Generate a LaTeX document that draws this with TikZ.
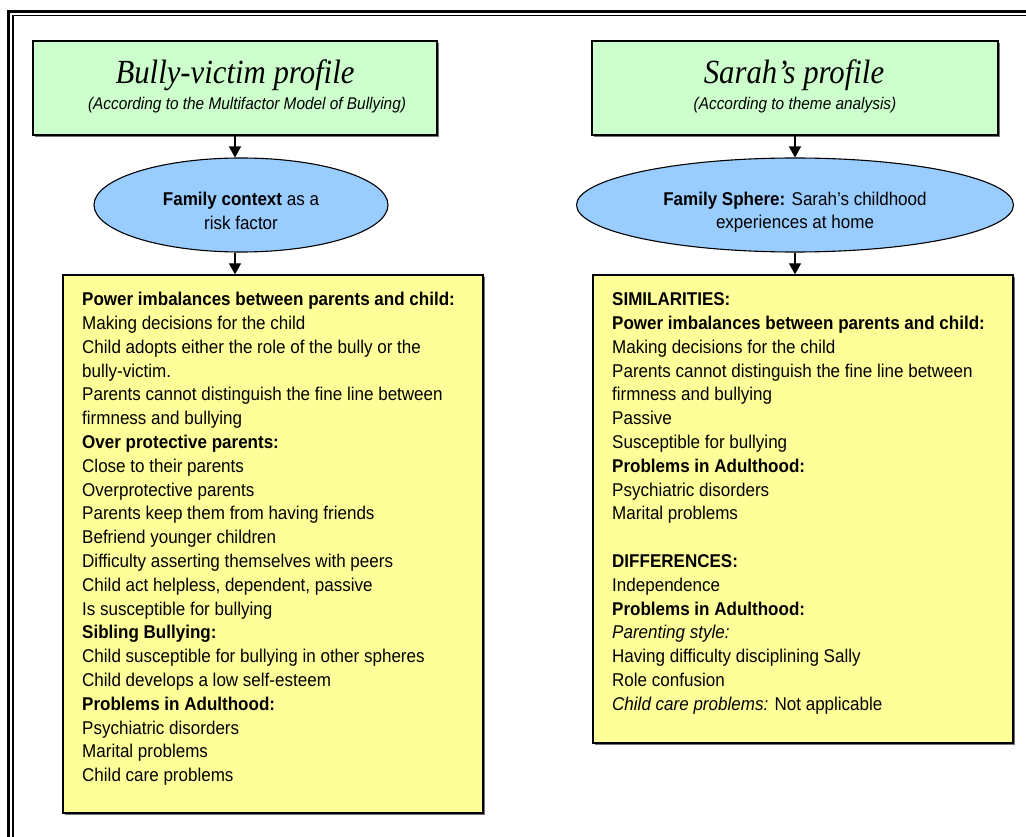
\documentclass[tikz,border=0pt]{standalone}
\usepackage{fontspec}
\usetikzlibrary{arrows.meta,shadows,shapes.geometric}
\newfontfamily\bodyfont[FakeStretch=0.92]{Liberation Sans}
\newfontfamily\subfont[FakeStretch=0.91]{Liberation Sans}
\newfontfamily\titlefont[FakeStretch=0.91]{Liberation Serif}
\definecolor{boxgreen}{HTML}{CCFFCC}
\definecolor{boxyellow}{HTML}{FFFF99}
\definecolor{ellblue}{HTML}{99CCFF}
\begin{document}
\begin{tikzpicture}[x=1pt,y=-1pt,
  box/.style={draw=black, line width=1.3pt, rectangle, inner sep=0pt,
    drop shadow={shadow xshift=2pt, shadow yshift=-2pt, opacity=1, fill=black!55}},
  greenbox/.style={box, fill=boxgreen},
  yellowbox/.style={box, fill=boxyellow},
  oval/.style={draw=black, line width=1.1pt, ellipse, fill=ellblue, inner sep=0pt},
  titletext/.style={anchor=base, inner sep=0pt, font=\titlefont\itshape\fontsize{33.8}{36}\selectfont},
  subtext/.style={anchor=base, inner sep=0pt, font=\subfont\itshape\fontsize{16.9}{20}\selectfont},
  ovaltext/.style={align=center, inner sep=0pt, font=\bodyfont\fontsize{18.5}{23.4}\selectfont},
  listtext/.style={anchor=base west, align=left, inner sep=0pt, font=\bodyfont\fontsize{18.5}{23.8}\selectfont},
  arr/.style={draw=black, line width=1.3pt, -{Triangle[length=11pt,width=12pt]}}
]
\useasboundingbox (0,0) rectangle (1026,837);
\begin{scope}
\clip (0,0) rectangle (1026,837);
\fill[white] (0,0) rectangle (1026,837);
% double frame
\draw[line width=3pt] (8.8,11.3) rectangle (1100,900);
\draw[line width=1.3pt] (13,15.7) rectangle (1095,895);
\end{scope}

% top boxes
\node[greenbox, minimum width=404pt, minimum height=94pt] (g1) at (235,88) {};
\node[greenbox, minimum width=406pt, minimum height=94pt] (g2) at (795,88) {};
\node[titletext] (t1) at (235,84) {Bully-victim profile};
\node[subtext] (s1) at (247,110) {(According to the Multifactor Model of Bullying)};
\node[titletext] (t2) at (794,84) {Sarah’s profile};
\node[subtext] (s2) at (795,110) {(According to theme analysis)};

% ellipses
\node[oval, minimum width=294pt, minimum height=94pt] (e1) at (241,205) {};
\node[oval, minimum width=437pt, minimum height=94pt] (e2) at (795,205) {};
\node[ovaltext] (et1) at (241,211) {\textbf{Family context} as a\\risk factor};
\node[ovaltext] (et2) at (795,212) {\textbf{Family Sphere:} Sarah’s childhood\\experiences at home};

% yellow boxes
\node[yellowbox, minimum width=420pt, minimum height=538pt] (y1) at (273,544) {};
\node[yellowbox, minimum width=420pt, minimum height=468pt] (y2) at (803,509) {};

% base anchor of a multi-line node is the baseline of its last line
\node[listtext] (l1) at (82,781.7) {\textbf{Power imbalances between parents and child:}\\
Making decisions for the child\\
Child adopts either the role of the bully or the\\
bully-victim.\\
Parents cannot distinguish the fine line between\\
firmness and bullying\\
\textbf{Over protective parents:}\\
Close to their parents\\
Overprotective parents\\
Parents keep them from having friends\\
Befriend younger children\\
Difficulty asserting themselves with peers\\
Child act helpless, dependent, passive\\
Is susceptible for bullying\\
\textbf{Sibling Bullying:}\\
Child susceptible for bullying in other spheres\\
Child develops a low self-esteem\\
\textbf{Problems in Adulthood:}\\
Psychiatric disorders\\
Marital problems\\
Child care problems};

\node[listtext] (l2) at (612,710.3) {\textbf{SIMILARITIES:}\\
\textbf{Power imbalances between parents and child:}\\
Making decisions for the child\\
Parents cannot distinguish the fine line between\\
firmness and bullying\\
Passive\\
Susceptible for bullying\\
\textbf{Problems in Adulthood:}\\
Psychiatric disorders\\
Marital problems\\[23.8pt]
\textbf{DIFFERENCES:}\\
Independence\\
\textbf{Problems in Adulthood:}\\
\textit{Parenting style:}\\
Having difficulty disciplining Sally\\
Role confusion\\
\textit{Child care problems:} Not applicable};

% connectors
\draw[arr] (g1.south) -- (g1.south |- e1.north);
\draw[arr] (g1.south |- e1.south) -- (g1.south |- y1.north);
\draw[arr] (g2.south) -- (g2.south |- e2.north);
\draw[arr] (e2.south) -- (e2.south |- y2.north);
\end{tikzpicture}
\end{document}
